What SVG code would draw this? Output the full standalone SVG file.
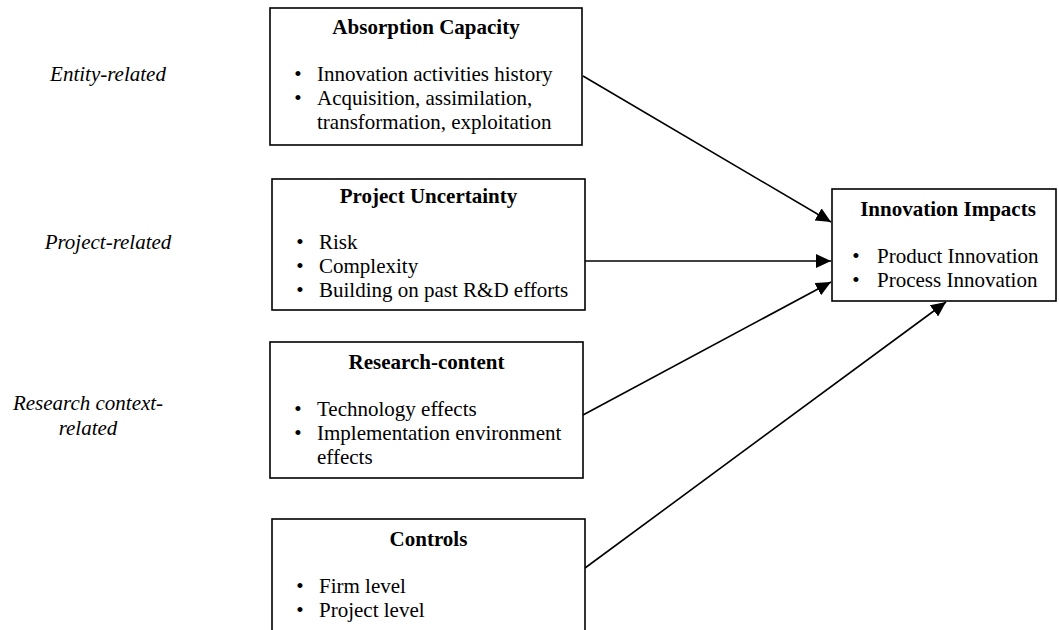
<svg xmlns="http://www.w3.org/2000/svg" width="1059" height="630" viewBox="0 0 1059 630">
<style>
  .box { fill: #ffffff; stroke: #000000; stroke-width: 1.6; }
  .title { font-family: "Liberation Serif", "Times New Roman", serif; font-size: 21px; font-weight: bold; fill: #000; text-anchor: middle; }
  .item { font-family: "Liberation Serif", "Times New Roman", serif; font-size: 21px; fill: #000; }
  .bul { font-family: "Liberation Serif", "Times New Roman", serif; font-size: 21px; fill: #000; text-anchor: middle; }
  .lab { font-family: "Liberation Serif", "Times New Roman", serif; font-size: 21px; font-style: italic; fill: #000; text-anchor: middle; }
  .conn { stroke: #000; stroke-width: 1.6; fill: none; marker-end: url(#arr); }
</style>
<defs>
  <marker id="arr" markerUnits="userSpaceOnUse" markerWidth="16" markerHeight="14" refX="15" refY="7" orient="auto">
    <path d="M0,0 L15,7 L0,14 z" fill="#000"/>
  </marker>
</defs>
<rect width="1059" height="630" fill="#ffffff"/>

<g id="labels">
  <text class="lab" x="108" y="81">Entity-related</text>
  <text class="lab" x="108" y="249">Project-related</text>
  <text class="lab" x="88" y="410">Research context-</text>
  <text class="lab" x="88" y="435">related</text>
</g>

<g id="connectors">
  <line class="conn" x1="583" y1="76" x2="831" y2="222"/>
  <line class="conn" x1="585" y1="261" x2="831" y2="261"/>
  <line class="conn" x1="583" y1="415" x2="831" y2="282"/>
  <line class="conn" x1="585" y1="568" x2="946" y2="302"/>
</g>

<g id="absorption">
  <rect class="box" x="270" y="8" width="312" height="137"/>
  <text class="title" x="426" y="34">Absorption Capacity</text>
  <text class="bul" x="298" y="81">•</text>
  <text class="item" x="317" y="81">Innovation activities history</text>
  <text class="bul" x="298" y="105">•</text>
  <text class="item" x="317" y="105">Acquisition, assimilation,</text>
  <text class="item" x="317" y="129">transformation, exploitation</text>
</g>

<g id="uncertainty">
  <rect class="box" x="272" y="179" width="313" height="131"/>
  <text class="title" x="428.5" y="203">Project Uncertainty</text>
  <text class="bul" x="300" y="249">•</text>
  <text class="item" x="319" y="249">Risk</text>
  <text class="bul" x="300" y="273">•</text>
  <text class="item" x="319" y="273">Complexity</text>
  <text class="bul" x="300" y="297">•</text>
  <text class="item" x="319" y="297">Building on past R&amp;D efforts</text>
</g>

<g id="research">
  <rect class="box" x="270" y="342" width="313" height="136"/>
  <text class="title" x="426.5" y="369">Research-content</text>
  <text class="bul" x="298" y="416">•</text>
  <text class="item" x="317" y="416">Technology effects</text>
  <text class="bul" x="298" y="440">•</text>
  <text class="item" x="317" y="440">Implementation environment</text>
  <text class="item" x="317" y="464">effects</text>
</g>

<g id="controls">
  <rect class="box" x="272" y="519" width="313" height="130"/>
  <text class="title" x="428.5" y="546">Controls</text>
  <text class="bul" x="300" y="593">•</text>
  <text class="item" x="319" y="593">Firm level</text>
  <text class="bul" x="300" y="617">•</text>
  <text class="item" x="319" y="617">Project level</text>
</g>

<g id="impacts">
  <rect class="box" x="832" y="189" width="224" height="112"/>
  <text class="title" x="948" y="216">Innovation Impacts</text>
  <text class="bul" x="856" y="263">•</text>
  <text class="item" x="877" y="263">Product Innovation</text>
  <text class="bul" x="856" y="287">•</text>
  <text class="item" x="877" y="287">Process Innovation</text>
</g>
</svg>
